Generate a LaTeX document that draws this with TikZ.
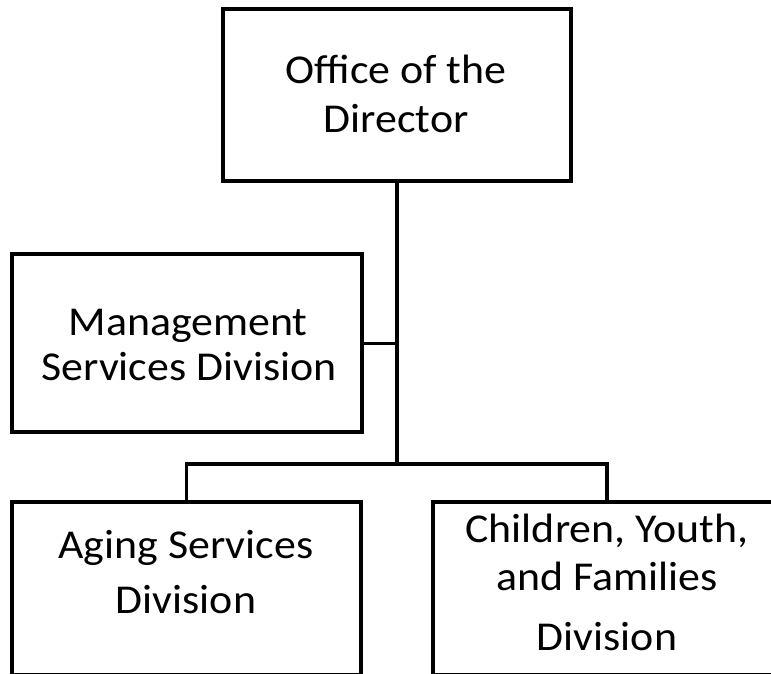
\documentclass[tikz,border=0pt]{standalone}
\usepackage{fontspec}
\setmainfont{Carlito}[FakeStretch=1.07]
\begin{document}
\begin{tikzpicture}[x=1pt,y=-1pt,
  box/.style={draw, line width=4pt, inner sep=0pt},
  txt/.style={font=\fontsize{41}{48}\selectfont, anchor=base, inner sep=0pt},
  conn/.style={line width=3.5pt, line join=miter}]
\useasboundingbox (0,0) rectangle (771,673);
\fill[white] (0,0) rectangle (771,673);
% boxes
\node[box, minimum width=348pt, minimum height=172pt] (dir) at (397,95) {};
\node[box, minimum width=350pt, minimum height=178pt] (mgmt) at (187,343) {};
\node[box, minimum width=349pt, minimum height=172.5pt] (aging) at (186.5,588.25) {};
\node[box, minimum width=348pt, minimum height=172.5pt] (child) at (607,588.25) {};
% texts
\node[txt] (dirA) at (396,83) {Office of the};
\node[txt] (dirB) at (396,132) {Director};
\node[txt] (mgmtA) at (188,335) {Management};
\node[txt] (mgmtB) at (189,380) {Services Division};
\node[txt] (agingA) at (186,558) {Aging Services};
\node[txt] (agingB) at (186,613) {Division};
\node[txt] (childA) at (607,542) {Children, Youth,};
\node[txt] (childB) at (607,590) {and Families};
\node[txt] (childC) at (607,650) {Division};
% connectors
\coordinate (bus) at (397,464);
\draw[conn] (dir.south) -- (bus);
\draw[conn, line width=3pt] (mgmt.east) -- (mgmt.east -| bus);
\draw[conn] (aging.north) |- (bus) -| (child.north);
\end{tikzpicture}
\end{document}
